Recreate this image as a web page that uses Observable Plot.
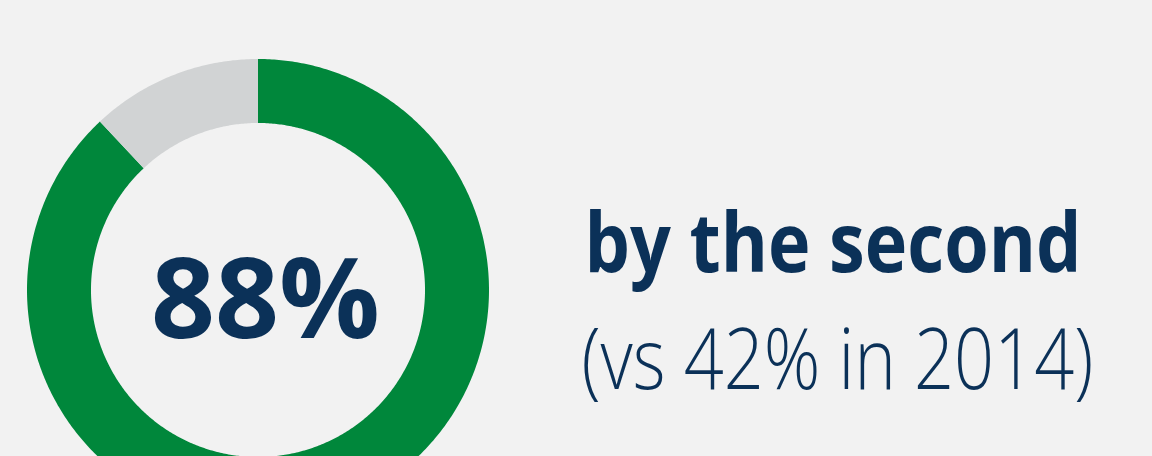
<!DOCTYPE html>
<html>
<head>
<meta charset="utf-8">
<script src="https://cdn.jsdelivr.net/npm/d3@7"></script>
<script src="https://cdn.jsdelivr.net/npm/@observablehq/plot@0.6"></script>
<style>
  html, body { margin: 0; padding: 0; background: #f2f2f2; overflow: hidden; width: 1152px; height: 456px; }
  #chart svg { display: block; }
</style>
</head>
<body>
<div id="chart"></div>
<script>
// Data
const categories = ["Yes", "No"];
const values = [88, 12];
const colors = ["#00873b", "#d1d3d4"];
const centerLabel = "88%";
const headline = "by the second";
const subline = "(vs 42% in 2014)";

const innerRatio = 0.723;

// Build slice polygons (outer arc + inner arc) from pie angles
const pie = d3.pie().sort(null).value(d => d.value)(categories.map((c, i) => ({category: c, value: values[i]})));
const rows = [];
for (const s of pie) {
  const n = Math.max(8, Math.ceil((s.endAngle - s.startAngle) / 0.01));
  for (let k = 0; k <= n; k++) {
    const a = s.startAngle + (s.endAngle - s.startAngle) * k / n;
    rows.push({
      category: s.data.category,
      x1: Math.sin(a), y1: Math.cos(a),
      x2: innerRatio * Math.sin(a), y2: innerRatio * Math.cos(a)
    });
  }
}

const cx = 258, cy = 290, R = 231;
const navy = "#0b3158";

const chart = Plot.plot({
  width: 1152,
  height: 456,
  margin: 0,
  style: {background: "#f2f2f2", overflow: "hidden"},
  x: {domain: [-1, 1], range: [cx - R, cx + R], axis: null},
  y: {domain: [-1, 1], range: [cy + R, cy - R], axis: null},
  color: {domain: categories, range: colors},
  marks: [
    Plot.area(rows, {x1: "x1", y1: "y1", x2: "x2", y2: "y2", z: "category", fill: "category", curve: "linear"}),
    Plot.text([centerLabel], {x: 0, y: 0, text: d => d, dx: 7, dy: 47, lineAnchor: "bottom", textAnchor: "middle",
      fontFamily: "Open Sans", fontWeight: 700, fontSize: 112, fill: navy}),
    Plot.text([headline], {frameAnchor: "top-left", text: d => d, dx: 584, dy: 271, lineAnchor: "bottom", textAnchor: "start",
      fontFamily: "Open Sans", fontWeight: 700, fontSize: 83, fill: navy}),
    Plot.text([subline], {frameAnchor: "top-left", text: d => d, dx: 581, dy: 388, lineAnchor: "bottom", textAnchor: "start",
      fontFamily: "Open Sans", fontWeight: 300, fontSize: 84, fill: navy})
  ]
});
document.getElementById("chart").append(chart);
// Narrower set width of the reference's lettering
const squeeze = {[headline]: 0.866, [subline]: 0.835};
d3.select(chart).selectAll("text").each(function() {
  const f = squeeze[this.textContent];
  if (f) {
    const len = this.getComputedTextLength();
    this.setAttribute("textLength", (len * f).toFixed(1));
    this.setAttribute("lengthAdjust", "spacingAndGlyphs");
  }
});
</script>
</body>
</html>
